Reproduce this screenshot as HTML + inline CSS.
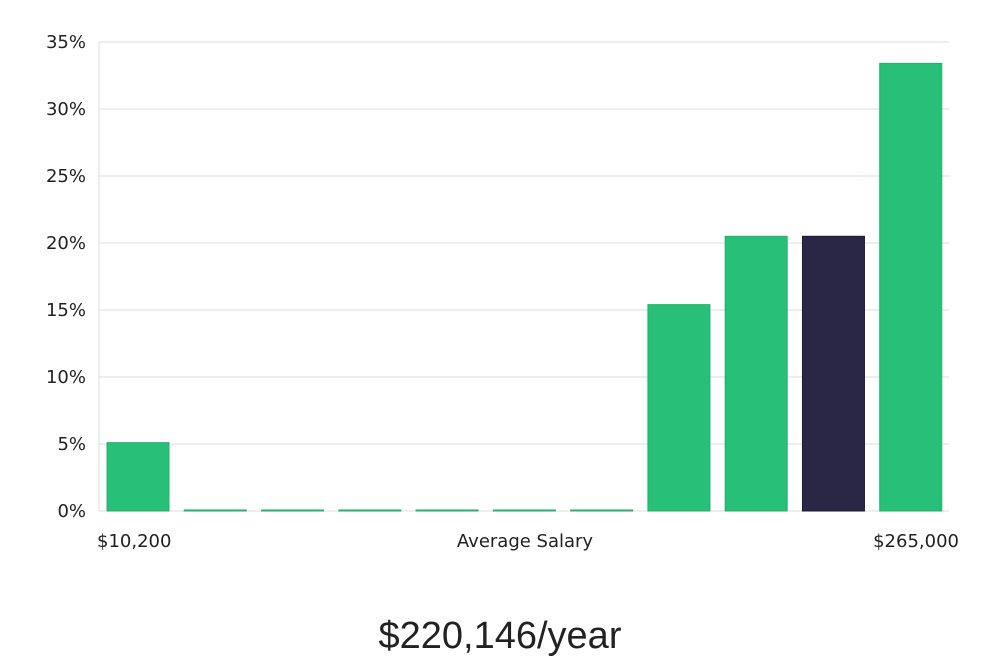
<!DOCTYPE html>
<html><head><meta charset="utf-8"><style>
body{margin:0;background:#fff;width:1000px;height:660px;overflow:hidden}
svg text{font-family:"DejaVu Sans","Liberation Sans",sans-serif;fill:#222}
</style></head><body>
<svg id="chart" width="1000" height="660" xmlns="http://www.w3.org/2000/svg">
<g id="grid"></g>
<g id="bars"></g>
<g id="yticks"></g>
<text x="97" y="547" font-size="18">$10,200</text>
<text x="525" y="547" font-size="18" text-anchor="middle">Average Salary</text>
<text x="959" y="547" font-size="18" text-anchor="end">$265,000</text>
<text x="500" y="648" font-size="38" text-anchor="middle" style="font-family:'Liberation Sans',sans-serif;font-weight:300">$220,146/year</text>
</svg>
<script>
const categories=["b1","b2","b3","b4","b5","b6","b7","b8","b9","b10","b11"];
const values=[5.1,0,0,0,0,0,0,15.4,20.5,20.5,33.4];
const highlight=[false,false,false,false,false,false,false,false,false,true,false];
const yTicks=[0,5,10,15,20,25,30,35];
const NS="http://www.w3.org/2000/svg";
const x0=99,x1=949,yBase=511,yTop=42,yMax=35;
const y=v=>yBase-(v/yMax)*(yBase-yTop);
const step=(x1-x0)/categories.length;
const bw=62;
const xb=i=>x0+8+i*step;
const grid=document.getElementById('grid'),yt=document.getElementById('yticks'),bars=document.getElementById('bars');
yTicks.forEach(t=>{
 const l=document.createElementNS(NS,'line');
 
 
 l.setAttribute('x1',x0);l.setAttribute('x2',x1);l.setAttribute('y1',y(t));l.setAttribute('y2',y(t));
 l.setAttribute('stroke','#dcdcdc');l.setAttribute('stroke-width','1');
 grid.appendChild(l);
 const tx=document.createElementNS(NS,'text');
 
 
 tx.setAttribute('x',86);tx.setAttribute('y',y(t)+6);tx.setAttribute('text-anchor','end');tx.setAttribute('font-size','18');
 tx.textContent=t+'%';yt.appendChild(tx);
});
const ax=document.createElementNS(NS,'line');


ax.setAttribute('x1',x0);ax.setAttribute('x2',x0);ax.setAttribute('y1',yTop);ax.setAttribute('y2',yBase);
ax.setAttribute('stroke','#dcdcdc');grid.appendChild(ax);
values.forEach((v,i)=>{
 const r=document.createElementNS(NS,'rect');
 
 
 const h=Math.max(1,yBase-y(v));
 r.setAttribute('x',xb(i));r.setAttribute('width',bw);r.setAttribute('y',yBase-h);r.setAttribute('height',h);
 r.setAttribute('fill',highlight[i]?'#292646':'#28bf78');
 r.setAttribute('stroke',highlight[i]?'#1c1a36':'#22b06d');r.setAttribute('stroke-width','1');
 bars.appendChild(r);
});
</script>
</body></html>
